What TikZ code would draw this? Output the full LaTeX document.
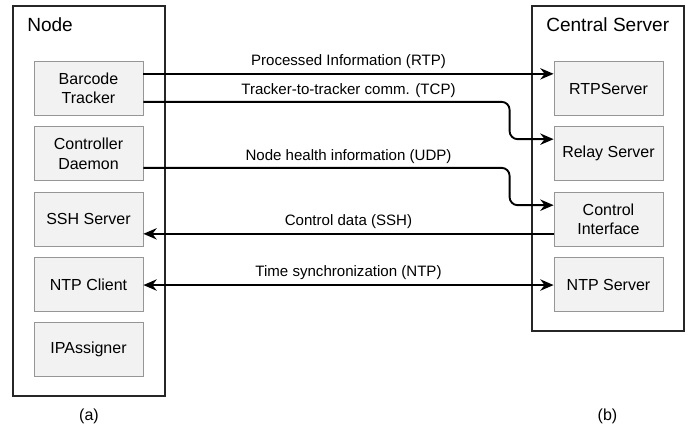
\documentclass[tikz,border=0pt]{standalone}
\usepackage{fontspec}
\setmainfont{Liberation Sans}
\usepackage{tikz}
\usetikzlibrary{arrows.meta,positioning,calc}
\definecolor{unitfill}{RGB}{242,242,242}
\definecolor{unitline}{RGB}{150,150,150}

\begin{document}
\begin{tikzpicture}[
        x=0.75pt, y=-0.75pt,
        node distance=7.9pt,
        >={Stealth[length=10pt,width=8.5pt]},
        outer/.style={draw=black!85, line width=0.8pt, minimum width=114pt, inner sep=0pt},
        title/.style={font=\fontsize{14.3}{17}\selectfont, inner sep=0pt},
        unit/.style={draw=unitline, fill=unitfill, line width=0.6pt, align=center, minimum width=81.75pt, minimum height=40.5pt, font=\fontsize{12}{14.5}\selectfont, inner sep=2pt},
        lbl/.style={font=\fontsize{11.3}{13}\selectfont},
        arr/.style={->, line width=1.4pt}
    ]
        \useasboundingbox (0,0) rectangle (691,433);

        % the two machines
        \node[outer, minimum height=292.5pt] (nodebox) at (89,201) {};
        \node[outer, minimum height=243.75pt] (srvbox) at (608,168.5) {};
        \node[title, anchor=base west] (nodettl) at ([xshift=10.9pt, yshift=-19.3pt]nodebox.north west) {Node};
        \node[title, anchor=base west] (srvttl) at ([xshift=10.9pt, yshift=-19.3pt]srvbox.north west) {Central Server};

        % node side
        \node[unit] (bc) at (88.5,88.5) {Barcode\\Tracker};
        \node[unit, below=of bc] (cd) {Controller\\Daemon};
        \node[unit, below=of cd] (ssh) {SSH Server};
        \node[unit, below=of ssh] (ntpc) {NTP Client};
        \node[unit, below=of ntpc] (ipa) {IPAssigner};

        % server side
        \node[unit] (rtp) at (608.5,88.5) {RTPServer};
        \node[unit, below=of rtp] (relay) {Relay Server};
        \node[unit, below=of relay] (ci) {Control\\Interface};
        \node[unit, below=of ci] (ntps) {NTP Server};

        \node[font=\fontsize{12}{14}\selectfont, anchor=base] (capa) at (89,420) {(a)};
        \node[font=\fontsize{12}{14}\selectfont, anchor=base] (capb) at (607.5,420) {(b)};

        \draw[arr] ([yshift=11pt]bc.east) -- node[lbl, above] {Processed Information (RTP)} ([yshift=11pt]rtp.west);
        \draw[arr, rounded corners=6pt] ([yshift=-10pt]bc.east) -| ([xshift=-33pt, yshift=11pt]relay.west) -- ([yshift=11pt]relay.west);
        \draw[arr, rounded corners=6pt] ([yshift=-10.5pt]cd.east) -| ([xshift=-33pt, yshift=10.5pt]ci.west) -- ([yshift=10.5pt]ci.west);
        \draw[arr] ([yshift=-11pt]ci.west) -- node[lbl, above] {Control data (SSH)} ([yshift=-11pt]ssh.east);
        \draw[arr, <->, line width=1.6pt] ([yshift=-0.4pt]ntpc.east) -- node[lbl, above] {Time synchronization (NTP)} ([yshift=-0.4pt]ntps.west);

        \node[lbl, above] (tcplbl) at ([yshift=-10pt]$(bc.east)!0.5!(bc.east -| rtp.west)$) {Tracker-to-tracker comm. (TCP)};
        \node[lbl, above] (udplbl) at ([yshift=-10.5pt]$(cd.east)!0.5!(cd.east -| ci.west)$) {Node health information (UDP)};
    \end{tikzpicture}
\end{document}
